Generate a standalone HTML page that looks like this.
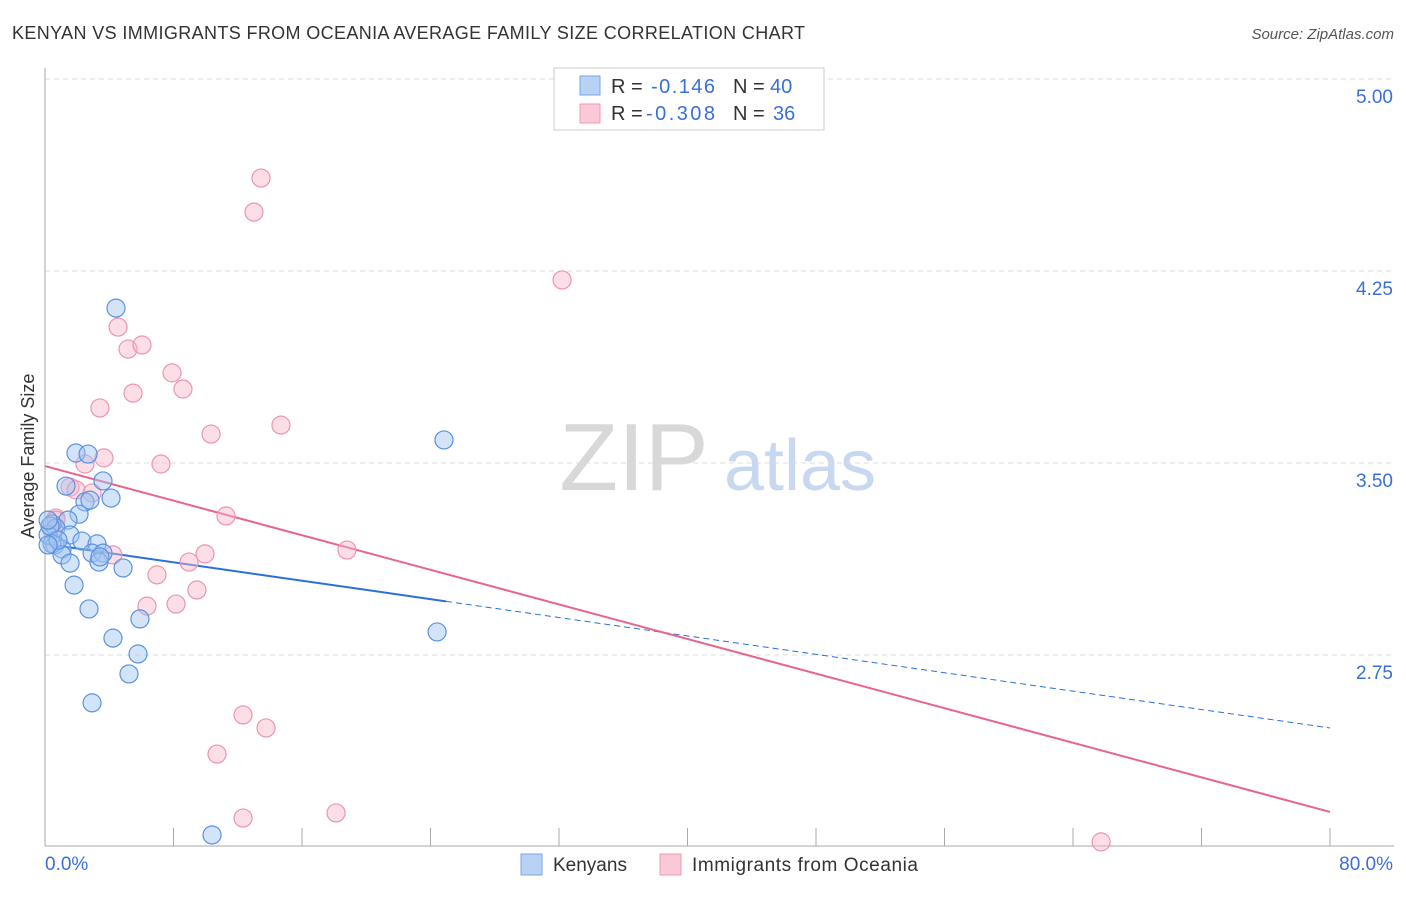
<!DOCTYPE html>
<html><head><meta charset="utf-8"><style>
body{margin:0;background:#fff;font-family:"Liberation Sans",sans-serif;}
svg text{font-family:"Liberation Sans",sans-serif;}
</style></head><body>
<svg id="chart" width="1406" height="892" xmlns="http://www.w3.org/2000/svg">
<text x="12" y="39" font-size="18" fill="#333" textLength="793">KENYAN VS IMMIGRANTS FROM OCEANIA AVERAGE FAMILY SIZE CORRELATION CHART</text>
<text x="1394" y="39" font-size="15" fill="#555" font-style="italic" text-anchor="end">Source: ZipAtlas.com</text>
<text x="634" y="490" font-size="96" fill="#d8d8d8" font-family="Liberation Serif" text-anchor="middle">ZIP</text>
<text x="800" y="490" font-size="72" fill="#c8d8f0" text-anchor="middle">atlas</text>
<g id="grid"></g><g id="axes"></g><g id="lines"></g><g id="pts"></g>
<text transform="translate(34,456) rotate(-90)" font-size="18" fill="#333" text-anchor="middle">Average Family Size</text>
<g>
<rect x="554" y="68" width="270" height="62" fill="#fff" stroke="#ccc"/>
<rect x="580" y="76" width="20" height="19" fill="#b8d2f5" stroke="#7aa6e0"/>
<rect x="580" y="104" width="20" height="19" fill="#fbc8d6" stroke="#ef9ab2"/>
<text x="611" y="93" font-size="20" fill="#333">R =</text><text x="651" y="93" font-size="20" fill="#3a6fd8" textLength="64">-0.146</text>
<text x="733" y="93" font-size="20" fill="#333">N =</text><text x="770" y="93" font-size="20" fill="#3a6fd8">40</text>
<text x="611" y="120" font-size="20" fill="#333">R =</text><text x="646" y="120" font-size="20" fill="#3a6fd8" textLength="69">-0.308</text>
<text x="733" y="120" font-size="20" fill="#333">N =</text><text x="773" y="120" font-size="20" fill="#3a6fd8">36</text>
</g>
<g>
<rect x="521" y="854" width="21" height="21" fill="#b8d2f5" stroke="#7aa6e0"/>
<text x="553" y="871" font-size="19" fill="#333">Kenyans</text>
<rect x="660" y="854" width="21" height="21" fill="#fbc8d6" stroke="#ef9ab2"/>
<text x="692" y="871" font-size="19" fill="#333" textLength="226">Immigrants from Oceania</text>
</g>
</svg>
<script>
const yTicks=[5.00,4.25,3.50,2.75];
const blueX=[4.42,1.93,2.68,1.31,3.61,4.11,2.49,2.80,2.12,1.43,0.44,0.68,0.19,1.56,2.30,3.24,0.62,1.06,0.44,1.06,2.93,3.61,3.36,1.56,4.86,1.81,2.74,5.91,4.23,5.79,5.23,2.93,10.40,24.84,24.41,0.31,0.81,0.19,3.42,0.19];
const blueY=[4.105,3.539,3.535,3.41,3.43,3.363,3.348,3.355,3.30,3.277,3.262,3.246,3.219,3.219,3.195,3.184,3.18,3.164,3.184,3.141,3.148,3.148,3.113,3.109,3.09,3.023,2.93,2.891,2.816,2.754,2.676,2.563,2.047,3.59,2.84,3.254,3.199,3.18,3.133,3.277];
const pinkX=[13.45,13.01,32.19,4.55,5.17,6.04,7.91,8.59,5.48,3.42,10.34,14.69,2.49,3.67,7.22,1.56,1.93,2.93,11.27,0.68,0.44,18.80,4.23,9.96,8.97,6.97,9.46,6.35,8.16,12.33,13.76,10.71,12.33,18.12,65.75,0.68];
const pinkY=[4.613,4.48,4.215,4.031,3.945,3.961,3.852,3.789,3.773,3.715,3.613,3.648,3.496,3.52,3.496,3.406,3.395,3.383,3.293,3.285,3.238,3.16,3.141,3.145,3.113,3.063,3.004,2.941,2.949,2.516,2.465,2.363,2.113,2.133,2.02,3.277];
const blueTrend=[3.184,2.465];
const pinkTrend=[3.488,2.137];
const blueSolidEnd=24.96;
const NS='http://www.w3.org/2000/svg';
const X=p=>45+p/80*1285, Y=v=>79+(5-v)*256;
function mk(t,a,par){const e=document.createElementNS(NS,t);for(const k in a)e.setAttribute(k,a[k]);document.getElementById(par).appendChild(e);return e;}
yTicks.forEach(v=>{
 const g=mk('line',{x1:45,x2:1394,y1:Y(v),y2:Y(v),stroke:'#ddd','stroke-dasharray':'5,4'},'grid');
 
 
 const t=mk('text',{x:1393,y:Y(v)+24,'font-size':19,fill:'#3a6fd8','text-anchor':'end'},'grid');
 t.textContent=v.toFixed(2);
 
 
});
mk('line',{x1:45,x2:45,y1:68,y2:846,stroke:'#aaa'},'axes');
mk('line',{x1:45,x2:1394,y1:846,y2:846,stroke:'#aaa'},'axes');
for(let i=1;i<=10;i++){const l=mk('line',{x1:X(i*8),x2:X(i*8),y1:828,y2:846,stroke:'#aaa'},'axes');
 
 }
const t0=mk('text',{x:45,y:870,'font-size':19,fill:'#3a6fd8'},'axes');t0.textContent='0.0%';


const t1=mk('text',{x:1393,y:870,'font-size':19,fill:'#3a6fd8','text-anchor':'end'},'axes');t1.textContent='80.0%';


const by=p=>blueTrend[0]+(blueTrend[1]-blueTrend[0])*p/80;
const bl1=mk('line',{x1:X(0),y1:Y(by(0)),x2:X(blueSolidEnd),y2:Y(by(blueSolidEnd)),stroke:'#2a6fdb','stroke-width':2},'lines');


const bl2=mk('line',{x1:X(blueSolidEnd),y1:Y(by(blueSolidEnd)),x2:X(80),y2:Y(by(80)),stroke:'#2a6fdb','stroke-width':1,'stroke-dasharray':'6,4'},'lines');


const pl=mk('line',{x1:X(0),y1:Y(pinkTrend[0]),x2:X(80),y2:Y(pinkTrend[1]),stroke:'#e8648c','stroke-width':2},'lines');


pinkX.forEach((x,i)=>{const c=mk('circle',{cx:X(x),cy:Y(pinkY[i]),r:9,fill:'rgba(248,182,202,0.45)',stroke:'#ee94b0','stroke-width':1.2},'pts');
 
 });
blueX.forEach((x,i)=>{const c=mk('circle',{cx:X(x),cy:Y(blueY[i]),r:9,fill:'rgba(160,196,240,0.45)',stroke:'#5b92e0','stroke-width':1.2},'pts');
 
 });
</script>
</body></html>
